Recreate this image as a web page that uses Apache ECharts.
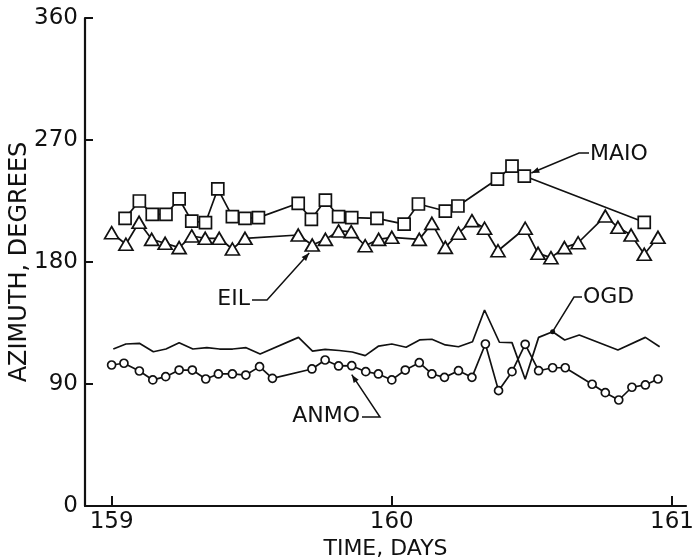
<!DOCTYPE html>
<html>
<head>
<meta charset="utf-8">
<script src="https://cdn.jsdelivr.net/npm/echarts@6/dist/echarts.min.js"></script>
<style>
  html, body { margin: 0; background: #fff; }
  #main { width: 692px; height: 559px; }
</style>
</head>
<body>
<div id="main"></div>
<script>
// station azimuths (day of year, degrees)
const maioDays = [159.048, 159.099, 159.145, 159.194, 159.241, 159.286, 159.335, 159.379, 159.431, 159.476,
  159.524, 159.666, 159.713, 159.763, 159.810, 159.857, 159.947, 160.044, 160.095, 160.191,
  160.236, 160.377, 160.429, 160.473, 160.901];
const maioAz = [212.2, 225.0, 215.2, 215.2, 226.5, 210.2, 209.0, 233.9, 213.4, 212.2,
  212.7, 223.3, 211.5, 225.7, 213.4, 212.7, 212.2, 208.0, 222.8, 217.6,
  221.3, 241.2, 250.8, 243.4, 209.3];

const eilDays = [159.000, 159.051, 159.098, 159.143, 159.191, 159.241, 159.286, 159.334, 159.384, 159.431,
  159.476, 159.666, 159.716, 159.763, 159.810, 159.855, 159.905, 159.953, 160.000, 160.098,
  160.143, 160.191, 160.238, 160.286, 160.331, 160.379, 160.476, 160.522, 160.568, 160.616,
  160.665, 160.762, 160.807, 160.854, 160.901, 160.950];
const eilAz = [201.6, 193.1, 209.3, 196.7, 193.8, 190.6, 199.2, 197.5, 197.5, 189.6,
  197.5, 199.9, 192.5, 196.7, 202.9, 202.4, 192.0, 196.7, 198.2, 196.7,
  208.5, 190.8, 201.2, 210.5, 204.9, 188.3, 204.9, 186.4, 183.2, 190.6,
  194.2, 213.9, 205.6, 199.9, 185.7, 198.2];

const ogdDays = [159.006, 159.051, 159.099, 159.149, 159.194, 159.241, 159.290, 159.340, 159.385, 159.432,
  159.480, 159.530, 159.667, 159.717, 159.762, 159.812, 159.859, 159.905, 159.953, 160.000,
  160.051, 160.099, 160.143, 160.191, 160.238, 160.288, 160.331, 160.384, 160.429, 160.476,
  160.524, 160.574, 160.617, 160.669, 160.807, 160.905, 160.956];
const ogdAz = [115.8, 119.5, 120.0, 113.8, 115.8, 120.5, 115.8, 116.8, 115.8, 115.8,
  116.8, 112.1, 124.4, 114.3, 115.5, 114.7, 113.6, 110.9, 118.0, 119.5,
  117.1, 122.5, 123.0, 118.8, 117.5, 121.2, 144.6, 120.8, 120.5, 93.5,
  124.4, 128.6, 122.5, 126.1, 115.1, 124.4, 117.5];

const anmoDays = [159.000, 159.044, 159.099, 159.147, 159.193, 159.241, 159.288, 159.336, 159.381, 159.431,
  159.479, 159.528, 159.574, 159.715, 159.762, 159.810, 159.857, 159.907, 159.952, 160.000,
  160.048, 160.098, 160.143, 160.188, 160.238, 160.286, 160.334, 160.381, 160.429, 160.476,
  160.524, 160.574, 160.619, 160.715, 160.762, 160.810, 160.857, 160.905, 160.950];
const anmoAz = [104.0, 105.3, 99.6, 93.0, 95.4, 100.3, 100.3, 93.7, 97.4, 97.4,
  96.6, 102.8, 94.2, 101.1, 107.7, 103.3, 103.5, 99.1, 97.4, 93.0,
  100.3, 105.7, 97.4, 94.9, 99.8, 94.9, 119.5, 85.1, 99.1, 119.3,
  99.8, 102.0, 102.0, 89.8, 83.6, 78.2, 87.6, 89.3, 93.7];

const dayTicks = [159, 160, 161];

const font = 'DejaVu Sans';
const ink = '#111';

const pairs = (xs, ys) => xs.map((x, i) => [x, ys[i]]);

const markerStyle = { color: '#fff', borderColor: ink, borderWidth: 1.7 };

const chart = echarts.init(document.getElementById('main'));

const option = {
  animation: false,
  backgroundColor: '#fff',
  grid: { left: 85, right: 6, top: 18, bottom: 53, containLabel: false, outerBoundsMode: 'none' },
  xAxis: {
    type: 'value',
    min: 158.905,
    max: 161.05,
    name: 'TIME, DAYS',
    nameLocation: 'middle',
    nameGap: 32,
    nameMoveOverlap: false,
    nameTextStyle: { fontFamily: font, fontSize: 22, color: ink },
    axisLine: { lineStyle: { color: ink, width: 2.2 } },
    axisTick: { inside: true, length: 10, customValues: dayTicks, lineStyle: { color: ink, width: 2 } },
    axisLabel: { customValues: dayTicks, margin: 5, fontFamily: font, fontSize: 23, color: ink },
    splitLine: { show: false },
  },
  yAxis: {
    type: 'value',
    min: 0,
    max: 360,
    interval: 90,
    name: 'AZIMUTH, DEGREES',
    nameLocation: 'middle',
    nameGap: 53,
    nameMoveOverlap: false,
    nameTextStyle: { fontFamily: font, fontSize: 24, color: ink },
    axisLine: { show: true, lineStyle: { color: ink, width: 2.2 } },
    axisTick: { show: true, inside: true, length: 8, lineStyle: { color: ink, width: 2 } },
    axisLabel: { margin: 7, fontFamily: font, fontSize: 23, color: ink },
    splitLine: { show: false },
  },
  series: [
    {
      name: 'OGD',
      type: 'line',
      data: pairs(ogdDays, ogdAz),
      showSymbol: false,
      symbol: 'none',
      lineStyle: { color: ink, width: 1.7 },
    },
    {
      name: 'ANMO',
      type: 'line',
      data: pairs(anmoDays, anmoAz),
      symbol: 'circle',
      symbolSize: 8,
      itemStyle: markerStyle,
      lineStyle: { color: ink, width: 1.7 },
    },
    {
      name: 'EIL',
      type: 'line',
      data: pairs(eilDays, eilAz),
      symbol: 'triangle',
      symbolSize: [14, 12],
      itemStyle: markerStyle,
      lineStyle: { color: ink, width: 1.7 },
    },
    {
      name: 'MAIO',
      type: 'line',
      data: pairs(maioDays, maioAz),
      symbol: 'rect',
      symbolSize: 12,
      itemStyle: markerStyle,
      lineStyle: { color: ink, width: 1.7 },
    },
  ],
};

chart.setOption(option);

// station labels with leader lines; arrow tips are hung off a data point
const labels = [
  { text: 'MAIO', x: 590, y: 155, align: 'left', path: [[589, 153], [579, 153]], days: maioDays, az: maioAz, idx: 23, dx: 7, dy: -3, arrow: true },
  { text: 'EIL', x: 250, y: 300, align: 'right', path: [[252, 300], [267, 300]], days: eilDays, az: eilAz, idx: 12, dx: -3, dy: 8, arrow: true },
  { text: 'OGD', x: 583, y: 298, align: 'left', path: [[582, 297], [574, 297]], days: ogdDays, az: ogdAz, idx: 31, dx: 0, dy: 0, arrow: false },
  { text: 'ANMO', x: 360, y: 417, align: 'right', path: [[362, 417], [380, 417]], days: anmoDays, az: anmoAz, idx: 16, dx: 0, dy: 9, arrow: true },
];

const graphics = [];

labels.forEach((lab) => {
  const p = chart.convertToPixel({ gridIndex: 0 }, [lab.days[lab.idx], lab.az[lab.idx]]);
  const tip = [p[0] + lab.dx, p[1] + lab.dy];
  const pts = lab.path.concat([tip]);

  graphics.push({
    type: 'text',
    left: lab.align === 'left' ? lab.x : null,
    right: lab.align === 'right' ? 692 - lab.x : null,
    top: lab.y - 12,
    style: { text: lab.text, fontFamily: font, fontSize: 22, fill: ink },
  });

  graphics.push({
    type: 'polyline',
    shape: { points: pts },
    style: { stroke: ink, lineWidth: 1.5, fill: null },
  });

  if (lab.arrow) {
    const prev = pts[pts.length - 2];
    const ddx = tip[0] - prev[0];
    const ddy = tip[1] - prev[1];
    const len = Math.sqrt(ddx * ddx + ddy * ddy);
    const ux = ddx / len;
    const uy = ddy / len;
    const bx = tip[0] - ux * 8;
    const by = tip[1] - uy * 8;
    graphics.push({
      type: 'polygon',
      shape: { points: [tip, [bx - uy * 3, by + ux * 3], [bx + uy * 3, by - ux * 3]] },
      style: { fill: ink },
    });
  } else {
    graphics.push({
      type: 'circle',
      shape: { cx: tip[0], cy: tip[1], r: 2.5 },
      style: { fill: ink },
    });
  }
});

chart.setOption({ graphic: graphics });
</script>
</body>
</html>
